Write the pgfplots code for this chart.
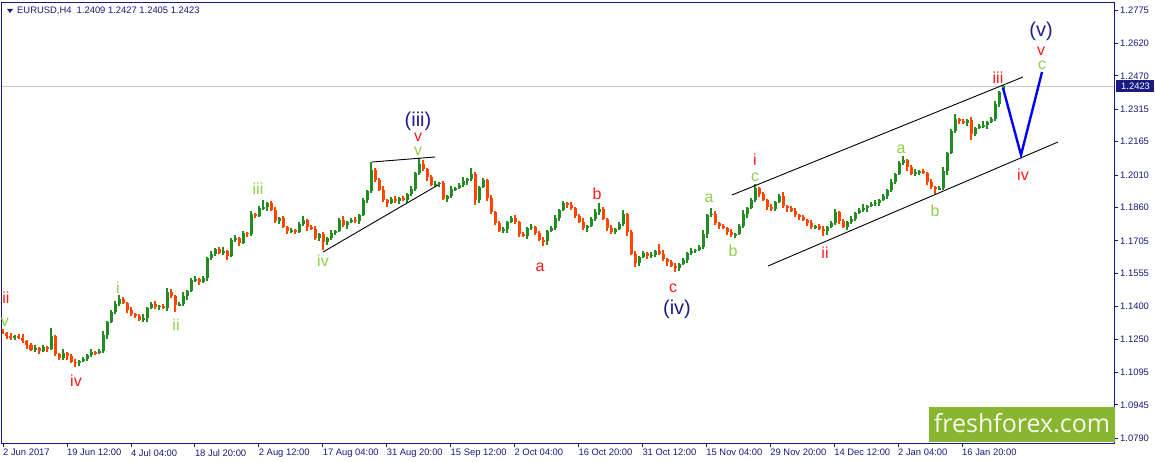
\documentclass[border=0pt]{standalone}
\usepackage{fontspec}
\setmainfont{Liberation Sans}
\usepackage{pgfplots}
\pgfplotsset{compat=1.18}
\usepackage{pgfplotstable}

\definecolor{navyax}{HTML}{1A1A80}
\definecolor{upc}{HTML}{228B22}
\definecolor{dnc}{HTML}{FF4500}
\definecolor{wred}{HTML}{FF1A1A}
\definecolor{wgreen}{HTML}{8ED04A}
\definecolor{wnavy}{HTML}{1E1E8C}
\definecolor{ffgreen}{HTML}{88B631}

% EURUSD H4 bars, open high low close
\pgfplotstableread{
o h l c
1.1287 1.1297 1.1273 1.1278
1.1278 1.1283 1.1250 1.1264
1.1264 1.1278 1.1246 1.1255
1.1255 1.1269 1.1246 1.1264
1.1264 1.1273 1.1250 1.1255
1.1255 1.1273 1.1232 1.1241
1.1241 1.1246 1.1204 1.1222
1.1222 1.1232 1.1195 1.1199
1.1199 1.1222 1.1190 1.1208
1.1208 1.1213 1.1181 1.1195
1.1195 1.1222 1.1190 1.1213
1.1213 1.1218 1.1190 1.1204
1.1204 1.1301 1.1199 1.1264
1.1264 1.1269 1.1171 1.1181
1.1181 1.1185 1.1153 1.1162
1.1162 1.1204 1.1153 1.1185
1.1185 1.1190 1.1153 1.1171
1.1171 1.1181 1.1139 1.1144
1.1144 1.1158 1.1120 1.1139
1.1139 1.1153 1.1125 1.1148
1.1148 1.1167 1.1144 1.1158
1.1158 1.1181 1.1148 1.1176
1.1176 1.1204 1.1167 1.1190
1.1190 1.1195 1.1176 1.1185
1.1185 1.1204 1.1181 1.1195
1.1195 1.1287 1.1185 1.1269
1.1269 1.1334 1.1250 1.1329
1.1329 1.1385 1.1324 1.1375
1.1375 1.1426 1.1366 1.1412
1.1412 1.1454 1.1403 1.1436
1.1436 1.1445 1.1412 1.1417
1.1417 1.1422 1.1371 1.1385
1.1385 1.1399 1.1357 1.1366
1.1366 1.1371 1.1348 1.1357
1.1357 1.1366 1.1334 1.1338
1.1338 1.1366 1.1329 1.1348
1.1348 1.1399 1.1329 1.1394
1.1394 1.1422 1.1389 1.1412
1.1412 1.1426 1.1389 1.1399
1.1399 1.1408 1.1385 1.1403
1.1403 1.1412 1.1389 1.1394
1.1394 1.1487 1.1380 1.1468
1.1468 1.1482 1.1440 1.1450
1.1450 1.1454 1.1375 1.1408
1.1408 1.1422 1.1403 1.1412
1.1412 1.1468 1.1403 1.1450
1.1450 1.1477 1.1431 1.1473
1.1473 1.1533 1.1468 1.1524
1.1524 1.1542 1.1514 1.1528
1.1528 1.1533 1.1500 1.1514
1.1514 1.1542 1.1510 1.1533
1.1533 1.1630 1.1519 1.1626
1.1626 1.1658 1.1616 1.1644
1.1644 1.1672 1.1635 1.1667
1.1667 1.1677 1.1644 1.1649
1.1649 1.1677 1.1640 1.1658
1.1658 1.1663 1.1616 1.1635
1.1635 1.1718 1.1630 1.1709
1.1709 1.1732 1.1700 1.1718
1.1718 1.1723 1.1681 1.1695
1.1695 1.1751 1.1691 1.1742
1.1742 1.1746 1.1723 1.1737
1.1737 1.1844 1.1728 1.1830
1.1830 1.1834 1.1811 1.1820
1.1820 1.1867 1.1816 1.1857
1.1857 1.1894 1.1848 1.1862
1.1862 1.1885 1.1844 1.1881
1.1881 1.1890 1.1844 1.1848
1.1848 1.1862 1.1788 1.1797
1.1797 1.1816 1.1783 1.1811
1.1811 1.1820 1.1765 1.1769
1.1769 1.1774 1.1737 1.1751
1.1751 1.1765 1.1742 1.1755
1.1755 1.1760 1.1737 1.1746
1.1746 1.1792 1.1742 1.1783
1.1783 1.1820 1.1774 1.1802
1.1802 1.1806 1.1751 1.1769
1.1769 1.1779 1.1755 1.1760
1.1760 1.1774 1.1709 1.1718
1.1718 1.1742 1.1704 1.1737
1.1737 1.1746 1.1663 1.1700
1.1700 1.1723 1.1686 1.1718
1.1718 1.1755 1.1709 1.1742
1.1742 1.1755 1.1732 1.1751
1.1751 1.1811 1.1746 1.1802
1.1802 1.1820 1.1769 1.1779
1.1779 1.1797 1.1760 1.1792
1.1792 1.1811 1.1788 1.1802
1.1802 1.1816 1.1788 1.1797
1.1797 1.1830 1.1783 1.1825
1.1825 1.1904 1.1820 1.1894
1.1894 1.1941 1.1881 1.1936
1.1936 1.2071 1.1927 1.2033
1.2033 1.2043 1.1978 1.1987
1.1987 1.1996 1.1936 1.1941
1.1941 1.1959 1.1885 1.1894
1.1894 1.1899 1.1862 1.1881
1.1881 1.1908 1.1876 1.1899
1.1899 1.1913 1.1881 1.1890
1.1890 1.1908 1.1876 1.1904
1.1904 1.1913 1.1890 1.1894
1.1894 1.1927 1.1881 1.1922
1.1922 1.1959 1.1913 1.1945
1.1945 1.2024 1.1936 1.2020
1.2020 1.2089 1.2010 1.2061
1.2061 1.2080 1.2029 1.2038
1.2038 1.2043 1.1983 1.2001
1.2001 1.2010 1.1959 1.1964
1.1964 1.1983 1.1955 1.1969
1.1969 1.1978 1.1955 1.1973
1.1973 1.1983 1.1894 1.1899
1.1899 1.1918 1.1885 1.1913
1.1913 1.1959 1.1904 1.1945
1.1945 1.1955 1.1936 1.1950
1.1950 1.1973 1.1945 1.1964
1.1964 1.2001 1.1955 1.1983
1.1983 1.1996 1.1964 1.1992
1.1992 1.2043 1.1983 1.2015
1.2015 1.2024 1.1871 1.1894
1.1894 1.1959 1.1881 1.1955
1.1955 1.1996 1.1950 1.1987
1.1987 1.1992 1.1890 1.1904
1.1904 1.1918 1.1830 1.1839
1.1839 1.1844 1.1779 1.1788
1.1788 1.1797 1.1746 1.1751
1.1751 1.1769 1.1742 1.1760
1.1760 1.1797 1.1742 1.1792
1.1792 1.1820 1.1788 1.1811
1.1811 1.1825 1.1783 1.1792
1.1792 1.1797 1.1723 1.1737
1.1737 1.1746 1.1723 1.1728
1.1728 1.1769 1.1714 1.1765
1.1765 1.1783 1.1755 1.1769
1.1769 1.1774 1.1732 1.1742
1.1742 1.1751 1.1704 1.1709
1.1709 1.1723 1.1681 1.1704
1.1704 1.1755 1.1686 1.1751
1.1751 1.1774 1.1746 1.1765
1.1765 1.1825 1.1755 1.1811
1.1811 1.1853 1.1797 1.1848
1.1848 1.1890 1.1844 1.1881
1.1881 1.1885 1.1857 1.1871
1.1871 1.1885 1.1848 1.1857
1.1857 1.1862 1.1811 1.1820
1.1820 1.1830 1.1788 1.1792
1.1792 1.1811 1.1755 1.1765
1.1765 1.1779 1.1746 1.1774
1.1774 1.1816 1.1769 1.1806
1.1806 1.1853 1.1797 1.1839
1.1839 1.1881 1.1825 1.1853
1.1853 1.1862 1.1802 1.1806
1.1806 1.1811 1.1751 1.1765
1.1765 1.1779 1.1737 1.1746
1.1746 1.1765 1.1737 1.1760
1.1760 1.1792 1.1755 1.1783
1.1783 1.1848 1.1774 1.1830
1.1830 1.1834 1.1728 1.1746
1.1746 1.1755 1.1640 1.1644
1.1644 1.1658 1.1584 1.1602
1.1602 1.1635 1.1589 1.1630
1.1630 1.1658 1.1626 1.1649
1.1649 1.1653 1.1621 1.1635
1.1635 1.1653 1.1626 1.1640
1.1640 1.1663 1.1630 1.1658
1.1658 1.1691 1.1640 1.1644
1.1644 1.1663 1.1612 1.1621
1.1621 1.1626 1.1589 1.1607
1.1607 1.1616 1.1584 1.1589
1.1589 1.1602 1.1561 1.1579
1.1579 1.1602 1.1565 1.1598
1.1598 1.1626 1.1593 1.1616
1.1616 1.1653 1.1602 1.1649
1.1649 1.1672 1.1640 1.1658
1.1658 1.1667 1.1649 1.1663
1.1663 1.1686 1.1658 1.1677
1.1677 1.1755 1.1667 1.1737
1.1737 1.1830 1.1718 1.1825
1.1825 1.1857 1.1816 1.1830
1.1830 1.1844 1.1779 1.1788
1.1788 1.1792 1.1760 1.1774
1.1774 1.1783 1.1760 1.1765
1.1765 1.1769 1.1732 1.1746
1.1746 1.1760 1.1723 1.1732
1.1732 1.1742 1.1718 1.1737
1.1737 1.1783 1.1732 1.1774
1.1774 1.1848 1.1765 1.1830
1.1830 1.1862 1.1811 1.1857
1.1857 1.1904 1.1853 1.1894
1.1894 1.1969 1.1885 1.1950
1.1950 1.1955 1.1908 1.1922
1.1922 1.1932 1.1890 1.1894
1.1894 1.1899 1.1848 1.1862
1.1862 1.1876 1.1844 1.1853
1.1853 1.1890 1.1844 1.1885
1.1885 1.1922 1.1881 1.1913
1.1913 1.1932 1.1857 1.1867
1.1867 1.1871 1.1839 1.1857
1.1857 1.1867 1.1839 1.1844
1.1844 1.1857 1.1816 1.1825
1.1825 1.1830 1.1802 1.1816
1.1816 1.1825 1.1797 1.1802
1.1802 1.1806 1.1774 1.1788
1.1788 1.1802 1.1760 1.1769
1.1769 1.1779 1.1760 1.1774
1.1774 1.1783 1.1755 1.1760
1.1760 1.1774 1.1728 1.1751
1.1751 1.1774 1.1732 1.1769
1.1769 1.1797 1.1765 1.1788
1.1788 1.1853 1.1779 1.1839
1.1839 1.1844 1.1783 1.1797
1.1797 1.1806 1.1765 1.1769
1.1769 1.1797 1.1755 1.1792
1.1792 1.1820 1.1783 1.1806
1.1806 1.1839 1.1797 1.1834
1.1834 1.1857 1.1830 1.1848
1.1848 1.1876 1.1839 1.1857
1.1857 1.1871 1.1839 1.1867
1.1867 1.1885 1.1862 1.1876
1.1876 1.1894 1.1867 1.1881
1.1881 1.1899 1.1867 1.1894
1.1894 1.1922 1.1890 1.1913
1.1913 1.1945 1.1899 1.1941
1.1941 1.1992 1.1932 1.1978
1.1978 1.2020 1.1969 1.2015
1.2015 1.2075 1.2010 1.2066
1.2066 1.2098 1.2057 1.2080
1.2080 1.2085 1.2029 1.2047
1.2047 1.2057 1.2010 1.2015
1.2015 1.2038 1.2006 1.2024
1.2024 1.2033 1.2010 1.2029
1.2029 1.2038 1.2015 1.2020
1.2020 1.2024 1.1964 1.1978
1.1978 1.1992 1.1945 1.1955
1.1955 1.1959 1.1922 1.1945
1.1945 1.1959 1.1941 1.1950
1.1950 1.2047 1.1941 1.2029
1.2029 1.2117 1.2010 1.2112
1.2112 1.2224 1.2108 1.2214
1.2214 1.2293 1.2205 1.2270
1.2270 1.2275 1.2247 1.2261
1.2261 1.2270 1.2247 1.2251
1.2251 1.2270 1.2237 1.2265
1.2265 1.2279 1.2173 1.2200
1.2200 1.2233 1.2191 1.2228
1.2228 1.2247 1.2224 1.2237
1.2237 1.2261 1.2228 1.2242
1.2242 1.2261 1.2224 1.2256
1.2256 1.2279 1.2251 1.2270
1.2270 1.2353 1.2261 1.2339
1.2339 1.2400 1.2326 1.2395
1.2409 1.2427 1.2405 1.2423
}\candles

\begin{document}
\begin{tikzpicture}
\path[use as bounding box, fill=white] (0pt,0pt) rectangle (1155pt,-462pt);
\begin{axis}[
    at={(2pt,-3pt)}, anchor=north west,
    scale only axis, width=1112pt, height=440pt,
    xmin=2, xmax=1114, ymin=1.07682, ymax=1.28074,
    axis line style={navyax, line width=1pt},
    tick style={navyax, line width=0.8pt},
    tick align=outside, major tick length=4pt,
    xtick pos=bottom, ytick pos=right, yticklabel pos=right,
    xtick={3,66.9,130.9,194.8,258.7,322.6,386.6,450.5,514.4,578.4,642.3,706.2,770.2,834.1,898.0,962.0},
    xticklabels={2 Jun 2017,19 Jun 12:00,4 Jul 04:00,18 Jul 20:00,2 Aug 12:00,17 Aug 04:00,31 Aug 20:00,15 Sep 12:00,2 Oct 04:00,16 Oct 20:00,31 Oct 12:00,15 Nov 04:00,29 Nov 20:00,14 Dec 12:00,2 Jan 04:00,16 Jan 20:00},
    ytick={1.0790,1.0945,1.1095,1.1250,1.1400,1.1555,1.1705,1.1860,1.2010,1.2165,1.2315,1.2470,1.2620,1.2775},
    yticklabels={1.0790,1.0945,1.1095,1.1250,1.1400,1.1555,1.1705,1.1860,1.2010,1.2165,1.2315,1.2470,1.2620,1.2775},
    ticklabel style={font=\fontsize{9.4}{11}\selectfont, text=navyax},
    xticklabel style={anchor=north west, inner sep=0pt, xshift=0pt, yshift=-2pt},
    yticklabel style={anchor=west, inner sep=0pt, xshift=2pt},
]
\draw[black!22, line width=0.8pt] (axis cs:2,1.2423) -- (axis cs:1114,1.2423);
% wicks
\addplot[draw=none, mark=none, forget plot, error bars/.cd, y dir=both, y explicit, error mark=none,
    error bar style={draw=upc, line width=1.3pt}]
    table[x expr={3+4*\coordindex}, y expr={\thisrow{c}>=\thisrow{o} ? (\thisrow{h}+\thisrow{l})/2 : nan},
          y error expr={(\thisrow{h}-\thisrow{l})/2}] {\candles};
\addplot[draw=none, mark=none, forget plot, error bars/.cd, y dir=both, y explicit, error mark=none,
    error bar style={draw=dnc, line width=1.3pt}]
    table[x expr={3+4*\coordindex}, y expr={\thisrow{c}<\thisrow{o} ? (\thisrow{h}+\thisrow{l})/2 : nan},
          y error expr={(\thisrow{h}-\thisrow{l})/2}] {\candles};
% bodies
\addplot[draw=none, mark=none, forget plot, error bars/.cd, y dir=both, y explicit, error mark=none,
    error bar style={draw=upc, line width=3pt}]
    table[x expr={3+4*\coordindex}, y expr={\thisrow{c}>=\thisrow{o} ? (\thisrow{o}+\thisrow{c})/2 : nan},
          y error expr={abs(\thisrow{c}-\thisrow{o})/2}] {\candles};
\addplot[draw=none, mark=none, forget plot, error bars/.cd, y dir=both, y explicit, error mark=none,
    error bar style={draw=dnc, line width=3pt}]
    table[x expr={3+4*\coordindex}, y expr={\thisrow{c}<\thisrow{o} ? (\thisrow{o}+\thisrow{c})/2 : nan},
          y error expr={abs(\thisrow{c}-\thisrow{o})/2}] {\candles};
\end{axis}

\begin{scope}[x=1pt, y=-1pt]
% header
\fill[navyax] (7,9) -- (13,9) -- (10,13) -- cycle;
\node[anchor=west, inner sep=0pt, text=navyax, font=\fontsize{9.4}{11}\selectfont] at (17,11) {EURUSD,H4\ \ 1.2409 1.2427 1.2405 1.2423};
% price box
\fill[navyax] (1116,80) rectangle (1154,92);
\node[anchor=west, inner sep=0pt, text=white, font=\fontsize{9.4}{11}\selectfont] at (1121,86) {1.2423};
% trend lines
\draw[black, line width=0.9pt] (372,162) -- (435,157);
\draw[black, line width=0.9pt] (323,252) -- (438,185);
\draw[black, line width=0.9pt] (732,195) -- (1023,77);
\draw[black, line width=0.9pt] (768,266) -- (1058,142);
\draw[blue, line width=2.4pt, line join=miter] (1003,88) -- (1021,155) -- (1042,72);
% wave labels
\tikzset{wl/.style={inner sep=0pt, font=\fontsize{16}{18}\selectfont}, wb/.style={inner sep=0pt, text=wnavy, font=\fontsize{20}{22}\selectfont}}
\node[wl, text=wred] at (6,298) {ii};
\node[wl, text=wgreen] at (5,322) {v};
\node[wl, text=wred] at (76,381) {iv};
\node[wl, text=wgreen] at (118,288) {i};
\node[wl, text=wgreen] at (176,325) {ii};
\node[wl, text=wgreen] at (258,189) {iii};
\node[wl, text=wgreen] at (323,261) {iv};
\node[wb] at (418,121) {(iii)};
\node[wl, text=wred] at (418,137) {v};
\node[wl, text=wgreen] at (418,151) {v};
\node[wl, text=wred] at (540,267) {a};
\node[wl, text=wred] at (597,194) {b};
\node[wl, text=wred] at (673,288) {c};
\node[wb] at (677,309) {(iv)};
\node[wl, text=wgreen] at (709,198) {a};
\node[wl, text=wgreen] at (733,251) {b};
\node[wl, text=wred] at (755,160) {i};
\node[wl, text=wgreen] at (755,177) {c};
\node[wl, text=wred] at (825,253) {ii};
\node[wl, text=wgreen] at (901,149) {a};
\node[wl, text=wgreen] at (935,211) {b};
\node[wl, text=wred] at (998,78) {iii};
\node[wl, text=wred] at (1023,175) {iv};
\node[wl, text=wgreen] at (1042,65) {c};
\node[wl, text=wred] at (1041,51) {v};
\node[wb] at (1041,31) {(v)};
% watermark
\fill[ffgreen] (929,407) rectangle (1115,442);
\node[text=white!92!ffgreen, inner sep=0pt, font=\fontspec{Open Sans}\fontsize{25}{28}\selectfont] at (1022,423) {freshforex.com};
\end{scope}
\end{tikzpicture}
\end{document}
